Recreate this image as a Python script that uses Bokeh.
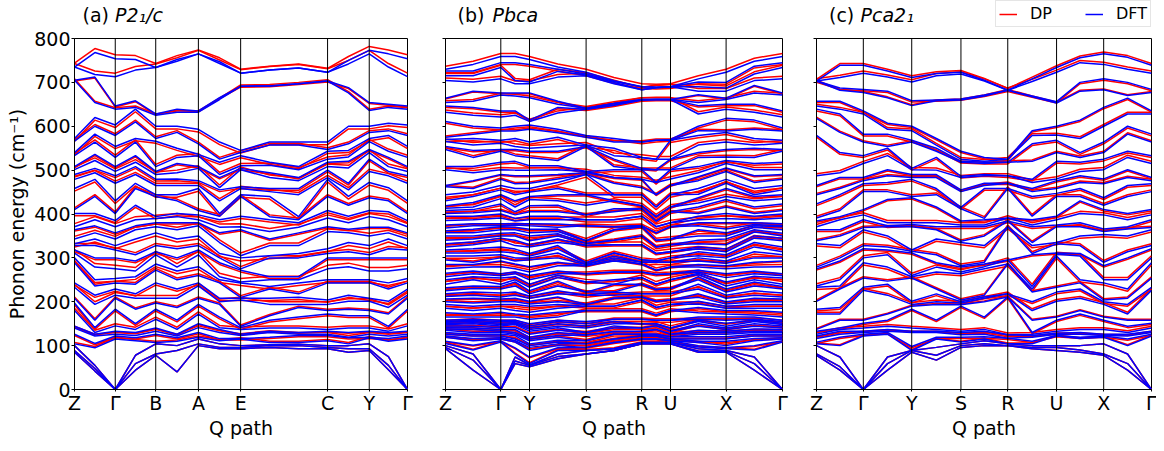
import numpy as np
from bokeh.plotting import figure
from bokeh.models import Range1d, FixedTicker, Span, Label, Legend, LegendItem
from bokeh.layouts import row, column
from bokeh.embed import file_html
from bokeh.resources import INLINE

FONT = "DejaVu Sans"
RED, BLUE = "#ff0000", "#0000ff"
Y_TICKS = [0, 100, 200, 300, 400, 500, 600, 700, 800]

# ---------------- panel (a) P2_1/c : 36 bands ----------------
a_hs_x = [0, 40.8, 81.3, 124.0, 166.3, 253.3, 295.0, 333.3]
a_hs_lab = ["Z", "Γ", "B", "A", "E", "C", "Y", "Γ"]
a_node_x = [0, 20.4, 40.8, 61.0, 81.3, 102.6, 124.0, 145.2, 166.3, 195.3, 224.3, 253.3, 274.2, 295.0, 314.2, 333.3]

A_Z = [85,89,100,104,126,140,144,180,197,208,233,243,289,300,311,318,328,332,343,364,371,401,410,458,479,490,501,508,533,540,566,572,705,705,735,735]
A_ZG = [42,48,55,95,105,122,126,130,141,158,194,215,236,250,279,300,328,343,357,373,387,401,440,479,494,504,522,536,564,582,600,620,654,712,718,768]
A_G = [0,0,0,115,122,126,133,145,183,208,215,229,243,253,275,300,318,328,343,357,371,385,401,430,470,487,497,508,529,554,579,603,639,646,713,754]
A_GB = [44,59,78,111,118,123,130,137,150,183,208,218,240,257,270,293,307,343,364,373,387,420,458,470,490,508,518,533,564,572,610,639,643,658,728,752]
A_B = [78,81,104,107,126,133,140,160,183,197,208,243,272,286,307,314,328,357,371,380,390,394,440,444,465,479,490,497,508,566,572,600,625,628,734,734]
A_BA = [40,89,100,110,118,122,126,137,158,187,208,229,250,270,279,300,321,343,364,380,394,401,430,444,465,480,494,515,529,550,586,600,632,639,748,752]
A_A = [100,104,115,119,130,141,150,172,194,208,236,243,260,280,307,318,328,350,373,380,387,398,408,458,465,476,504,508,533,536,560,593,632,635,765,765]
A_AE = [93,96,104,111,116,130,137,141,165,194,200,208,243,250,257,289,300,310,335,357,370,387,395,401,430,455,460,483,490,518,525,564,661,665,743,747]
A_E = [93,96,100,115,116,123,126,137,141,144,204,208,210,243,245,272,275,300,305,364,371,395,440,444,458,462,501,504,510,533,540,545,691,691,721,721]
A_EC1 = [96,100,102,107,119,130,133,140,158,168,194,208,229,235,250,257,300,305,328,343,360,387,394,440,451,458,483,494,511,518,557,564,692,692,728,728]
A_EC2 = [93,100,103,107,123,126,130,140,165,187,194,210,218,243,250,257,300,310,328,357,370,380,387,394,444,458,476,483,501,508,557,564,697,697,733,733]
A_C = [93,96,100,111,123,126,133,137,172,180,194,204,243,250,275,300,310,321,360,371,391,408,440,479,483,500,508,518,525,543,547,564,703,703,723,723]
A_CY = [85,93,100,104,118,119,130,140,168,183,201,215,243,250,280,300,314,335,357,365,380,395,420,440,455,470,505,520,530,545,560,600,676,688,742,750]
A_Y = [89,93,104,118,119,126,133,140,168,180,201,208,243,250,270,300,307,328,350,370,394,408,437,472,497,525,540,547,565,572,586,600,636,654,765,773]
A_YG = [45,55,75,110,116,122,130,133,144,172,187,201,229,243,270,300,321,343,357,370,387,405,430,460,487,497,508,529,543,579,590,607,643,650,735,765]
a_nodes = [A_Z, A_ZG, A_G, A_GB, A_B, A_BA, A_A, A_AE, A_E, A_EC1, A_EC2, A_C, A_CY, A_Y, A_YG, A_G]
a_dp_shift = [0,0,0,3,-3,4,-2,5,-4,3,6,-5,4,-6,8,-4,5,-7,6,-3,7,-5,4,-6,5,-4,6,-3,5,-5,4,-6,3,-2,8,9]

# ---------------- panel (b) Pbca : 72 bands ----------------
b_hs_x = [0, 55.3, 84.0, 140.6, 196.3, 225.0, 280.6, 337.0]
b_hs_lab = ["Z", "Γ", "Y", "S", "R", "U", "X", "Γ"]
b_node_x = [0, 27.6, 55.3, 69.6, 84.0, 112.3, 140.6, 168.5, 196.3, 210.6, 225.0, 252.8, 280.6, 308.8, 337.0]

B_Z = [93,96,100,105,110,119,122,126,130,135,138,141,145,148,150,153,155,158,
       165,175,185,194,200,206,212,218,225,232,240,250,257,265,
       275,285,295,304,311,318,325,332,340,350,357,362,368,375,
       385,395,401,408,413,419,430,444,462,465,501,508,
       547,554,565,570,575,611,
       632,646,654,664,704,715,726,730]
B_ZG = [44,67,81,90,101,111,116,122,126,130,137,140,144,150,152,155,158,160,
        165,172,180,190,197,208,215,222,230,236,250,257,264,270,
        279,285,290,304,311,321,330,336,343,350,357,365,373,378,
        387,395,403,410,416,426,440,450,458,476,494,508,
        529,545,557,572,582,600,
        625,643,657,680,701,715,726,741]
B_G = [0,0,0,108,111,115,118,122,126,130,133,137,141,145,148,151,155,158,
       165,176,185,194,200,206,211,220,229,235,240,254,259,264,
       280,293,300,307,314,325,339,345,350,356,364,371,373,378,
       391,400,408,423,435,444,455,465,479,490,501,518,
       543,547,561,568,589,596,
       621,635,671,676,708,734,745,759]
B_GY = [59,65,74,81,95,108,111,115,123,126,130,137,141,148,150,152,155,158,
        165,172,180,194,200,208,215,222,236,245,250,257,264,268,
        275,286,293,300,311,320,328,340,350,357,364,370,375,378,
        384,390,398,405,416,430,444,458,469,487,500,520,
        533,547,554,572,589,600,
        625,635,669,676,697,704,745,759]
B_Y = [52,55,56,59,74,89,96,100,104,111,115,119,126,133,137,141,145,150,
       160,170,176,190,195,201,208,213,218,225,233,240,250,260,
       268,280,296,300,304,310,325,330,339,350,357,365,373,378,
       387,395,405,419,433,440,450,458,470,487,500,510,
       529,543,550,564,593,603,
       611,614,665,676,697,701,741,752]
B_YS = [70,75,81,89,95,100,104,108,112,119,123,130,135,141,144,150,155,158,
        165,176,185,194,200,211,218,225,236,247,255,260,264,270,
        282,290,300,311,320,328,335,343,350,355,360,365,370,377,
        387,395,405,420,430,444,458,472,480,490,501,510,
        522,543,554,575,585,593,
        630,643,650,657,712,725,730,735]
B_S = [81,81,89,89,96,96,104,104,111,111,124,124,130,130,140,145,150,155,
       180,180,190,190,194,194,215,215,222,222,245,245,264,264,
       282,282,285,285,289,289,328,328,333,333,339,339,373,373,
       387,387,398,398,420,444,444,490,490,494,497,497,
       554,554,557,557,575,579,
       639,639,641,641,715,717,719,723]
B_SR = [89,89,93,93,107,107,115,115,126,126,132,132,140,145,150,155,160,160,
        180,180,190,190,208,208,215,222,222,240,240,250,268,268,
        293,296,300,304,311,311,330,330,340,340,364,364,371,371,
        387,387,405,412,430,430,444,444,470,483,483,501,
        508,525,533,550,564,572,
        648,648,652,652,697,700,702,704]
B_R = [104,104,107,107,115,115,122,122,126,126,133,133,140,140,150,150,160,160,
       180,180,204,204,211,211,218,218,240,240,255,255,268,268,
       286,286,290,290,296,296,330,330,350,350,371,371,373,373,
       395,395,412,412,419,419,444,444,460,479,479,501,
       501,504,529,529,564,564,
       660,660,661,661,683,683,690,690]
B_RU = [104,104,107,107,115,115,122,122,126,126,137,137,145,145,150,150,158,158,
        170,170,187,187,201,201,218,218,228,228,240,240,262,262,
        272,272,290,290,293,293,310,310,325,325,340,340,357,357,
        371,371,384,384,394,394,416,416,444,444,472,472,
        501,501,525,525,568,568,
        661,661,661,661,688,688,689,689]
B_U = [104,104,107,107,111,111,115,115,120,120,126,126,133,133,140,140,158,158,
       180,180,194,194,204,204,218,218,230,230,250,250,264,264,
       279,279,290,290,300,300,314,314,330,330,343,343,371,371,
       380,380,405,405,416,416,444,444,465,465,480,501,
       501,525,525,568,568,570,
       661,661,661,661,690,690,690,690]
B_UX = [85,88,93,97,100,107,110,115,120,126,130,135,144,150,155,158,160,165,
        175,187,195,201,210,218,229,240,250,257,262,265,268,272,
        279,285,293,300,305,314,320,325,332,340,350,364,373,380,
        387,395,401,416,425,437,445,458,476,485,494,508,
        529,540,557,579,590,600,
        628,647,654,672,680,690,701,708]
B_X = [85,87,89,93,96,100,110,115,120,126,130,133,137,140,144,151,158,165,
       172,180,185,190,195,200,208,215,222,229,236,245,255,264,
       275,282,288,293,300,307,314,320,330,343,350,357,366,380,
       390,401,416,433,440,458,470,479,497,505,515,522,
       530,547,564,586,589,618,
       639,650,661,664,680,687,700,723]
B_XG = [44,59,74,90,100,111,116,122,126,130,133,138,144,150,155,158,160,165,
        170,180,185,194,200,208,215,225,236,245,250,258,264,270,
        279,290,300,314,325,335,345,350,359,364,370,373,376,380,
        387,395,401,416,430,440,444,458,472,487,501,515,
        529,550,557,572,593,614,
        632,650,676,693,704,719,737,748]
b_nodes = [B_Z, B_ZG, B_G, B_GY, B_Y, B_YS, B_S, B_SR, B_R, B_RU, B_U, B_UX, B_X, B_XG, B_G]
b_dp_shift = [0,0,0,2,-2,3,-3,2,-4,3, 4,-3,2,-4,5,-2,3,-5,4,-3, 5,-4,3,-2,4,-5,3,-3,6,-4,
              4,-3,5,-2,3,-5,4,-4,6,-3, 3,-4,5,-3,4,-2,6,-5,3,-4, 5,-3,4,-6,3,-2,5,-4,4,-3,
              6,-5,3,-4,5,-3,4,-2,6,5, -4,7]

# ---------------- panel (c) Pca2_1 : 36 bands ----------------
c_hs_x = [0, 47.0, 95.6, 145.0, 192.0, 241.0, 288.3, 336.3]
c_hs_lab = ["Z", "Γ", "Y", "S", "R", "U", "X", "Γ"]
c_node_x = [0, 23.5, 47.0, 71.3, 95.6, 120.3, 145.0, 168.5, 192.0, 216.5, 241.0, 264.6, 288.3, 312.3, 336.3]

C_Z = [78,81,100,104,108,116,122,126,133,137,172,183,201,233,236,275,279,332,339,364,371,384,391,423,444,465,487,579,618,639,646,657,703,703,703,703]
C_ZG = [44,52,74,100,119,126,133,137,140,158,172,187,229,236,250,293,300,328,350,364,387,394,408,444,458,483,494,540,586,628,639,657,682,687,711,739]
C_G = [0,0,0,122,126,130,133,140,151,158,226,233,254,289,300,321,328,364,369,387,398,410,451,469,476,483,515,533,564,582,628,635,677,684,721,739]
C_GY = [44,59,74,126,130,133,137,144,158,172,215,240,247,279,307,318,325,350,371,373,380,433,451,472,487,501,533,550,554,582,593,607,665,680,712,726]
C_Y = [85,89,89,89,98,130,133,140,183,190,194,201,254,257,260,311,315,318,371,376,380,437,440,479,483,490,501,504,564,568,590,600,647,658,701,711]
C_YS = [67,78,96,115,119,130,133,137,158,194,200,218,229,268,279,289,307,343,364,371,380,416,444,458,483,490,500,529,543,550,557,572,658,660,715,720]
C_S = [96,100,104,108,119,125,130,133,190,193,197,200,204,264,268,279,282,335,338,371,375,384,412,415,451,455,483,486,518,520,525,543,660,662,719,723]
C_SR = [100,104,111,115,120,126,133,137,165,200,208,211,215,275,280,286,290,328,350,371,375,387,390,458,465,470,487,490,515,518,520,529,669,671,703,705]
C_R = [100,100,104,104,117,117,125,125,211,211,218,218,286,286,295,295,371,371,384,384,391,391,458,458,470,470,487,487,518,518,525,525,682,682,682,682]
C_RU = [93,96,100,104,110,119,123,126,130,158,180,200,222,229,235,307,310,328,335,371,375,387,395,440,451,458,472,479,520,560,579,590,667,669,702,708]
C_U = [89,96,100,122,123,126,128,133,158,165,201,222,233,304,308,311,332,335,371,375,387,395,440,447,458,476,480,520,540,568,580,600,653,656,723,734]
C_UX = [85,90,100,116,119,126,130,137,172,180,208,229,243,250,304,310,328,350,371,380,401,430,440,458,472,487,497,518,529,540,572,614,680,700,745,756]
C_X = [78,81,104,119,122,123,126,137,158,165,194,200,204,243,250,282,290,353,360,366,398,410,420,437,469,480,501,525,540,564,600,643,683,708,741,765]
C_XG = [44,59,81,100,115,122,126,130,144,158,172,194,208,229,250,300,314,350,366,371,387,401,440,465,483,501,529,543,582,600,628,664,670,700,730,757]
c_nodes = [C_Z, C_ZG, C_G, C_GY, C_Y, C_YS, C_S, C_SR, C_R, C_RU, C_U, C_UX, C_X, C_XG, C_G]
c_dp_shift = [0,0,0,2,-3,3,-2,4,-3,2, 4,-4,3,-5,5,-3,4,-5,3,-4, 5,-3,4,-4,3,-3,5,-4,3,-4, 4,-3,2,-3,5,4]

# ---------------- layout constants (pixels) ----------------
STRIP_H = 27          # band above the panels holding titles and legend
BORDER_TOP = 11       # room above each frame for the top tick label
FRAME_H = 351
BORDER_BOTTOM = 46
TOTAL_W = 1156
TITLE_BASE = 13       # title position, pixels above the strip's bottom


def build(name, node_x, nodes, shift, hs_x, hs_lab, frame_w, ml, mr, first):
    nb = len(shift)
    for i, n in enumerate(nodes):
        if len(n) != nb:
            raise ValueError(f"{name}: node {i} has {len(n)} values, expected {nb}")
    tab = np.array([sorted(n) for n in nodes], dtype=float)
    xs = [list(node_x) for _ in range(nb)]
    dft = [tab[:, j].tolist() for j in range(nb)]
    dp = [(tab[:, j] + shift[j]).tolist() for j in range(nb)]

    p = figure(frame_width=frame_w, frame_height=FRAME_H,
               min_border_left=ml, min_border_right=mr,
               min_border_top=BORDER_TOP, min_border_bottom=BORDER_BOTTOM,
               x_range=Range1d(0, hs_x[-1]), y_range=Range1d(0, 800),
               output_backend="svg", toolbar_location=None, title=None)
    p.multi_line(xs, dp, line_color=RED, line_width=1.5)
    p.multi_line(xs, dft, line_color=BLUE, line_width=1.5)

    for x in hs_x[1:-1]:
        p.add_layout(Span(location=x, dimension="height", line_color="black", line_width=1))

    p.xgrid.visible = False
    p.ygrid.visible = False
    p.outline_line_color = "black"
    p.outline_line_alpha = 1
    p.background_fill_color = "white"
    p.border_fill_color = "white"

    p.xaxis.ticker = FixedTicker(ticks=hs_x)
    p.xaxis.major_label_overrides = {float(x): l for x, l in zip(hs_x, hs_lab)}
    p.yaxis.ticker = FixedTicker(ticks=Y_TICKS)
    if not first:
        p.yaxis.major_label_overrides = {float(t): "" for t in Y_TICKS}
    else:
        p.yaxis.axis_label = "Phonon energy (cm⁻¹)"
    p.xaxis.axis_label = "Q path"

    for ax in (p.xaxis, p.yaxis):
        ax.major_label_text_font = FONT
        ax.major_label_text_font_size = "19px"
        ax.major_label_text_color = "black"
        ax.axis_label_text_font = FONT
        ax.axis_label_text_font_size = "19px"
        ax.axis_label_text_font_style = "normal"
        ax.axis_label_text_color = "black"
        ax.axis_line_color = "black"
        ax.major_tick_line_color = "black"
        ax.minor_tick_line_color = None
        ax.major_tick_in = 0
        ax.major_tick_out = 3
    p.xaxis.major_tick_out = 2
    p.xaxis.major_label_standoff = 0
    p.xaxis.axis_label_standoff = 0
    p.yaxis.major_label_standoff = 1
    p.yaxis.axis_label_standoff = 3
    return p


pa = build("a", a_node_x, a_nodes, a_dp_shift, a_hs_x, a_hs_lab, 333, 74, 9, True)
pb = build("b", b_node_x, b_nodes, b_dp_shift, b_hs_x, b_hs_lab, 337, 29, 9, False)
pc = build("c", c_node_x, c_nodes, c_dp_shift, c_hs_x, c_hs_lab, 335, 25, 5, False)

# ---------------- top strip: panel titles and legend ----------------
strip = figure(width=TOTAL_W, height=STRIP_H, x_range=Range1d(0, TOTAL_W), y_range=Range1d(0, STRIP_H),
               min_border=0, x_axis_type=None, y_axis_type=None, title=None,
               output_backend="svg", toolbar_location=None)
strip.outline_line_color = None
strip.background_fill_color = "white"
strip.border_fill_color = "white"
strip.xgrid.visible = False
strip.ygrid.visible = False

titles = [("(a) ", 82, "P2₁/c", 114.5),
          ("(b) ", 457, "Pbca", 492),
          ("(c) ", 828.5, "Pca2₁", 860)]
for t1, x1, t2, x2 in titles:
    strip.add_layout(Label(x=x1, y=TITLE_BASE, text=t1, text_font=FONT, text_font_size="19px",
                           text_baseline="alphabetic", text_color="black"))
    strip.add_layout(Label(x=x2, y=TITLE_BASE, text=t2, text_font=FONT, text_font_size="19px",
                           text_font_style="italic", text_baseline="alphabetic", text_color="black"))

# legend keys: line renderers kept outside the strip's visible range
k_dp = strip.line(x=[-20, -10], y=[-20, -20], line_color=RED, line_width=1.5)
k_dft = strip.line(x=[-20, -10], y=[-20, -20], line_color=BLUE, line_width=1.5)
legend = Legend(items=[LegendItem(label="DP", renderers=[k_dp]),
                       LegendItem(label="DFT", renderers=[k_dft])],
                orientation="horizontal", location=(995, 0), margin=0,
                label_text_font=FONT, label_text_font_size="16px", label_text_color="black",
                glyph_width=18, glyph_height=18, label_height=18,
                label_standoff=13, spacing=33, padding=3,
                border_line_color="#cccccc", border_line_width=1,
                background_fill_color="white", background_fill_alpha=1.0)
strip.add_layout(legend)

layout = column(strip, row(pa, pb, pc))
open("out.html", "w").write(file_html(layout, INLINE))
